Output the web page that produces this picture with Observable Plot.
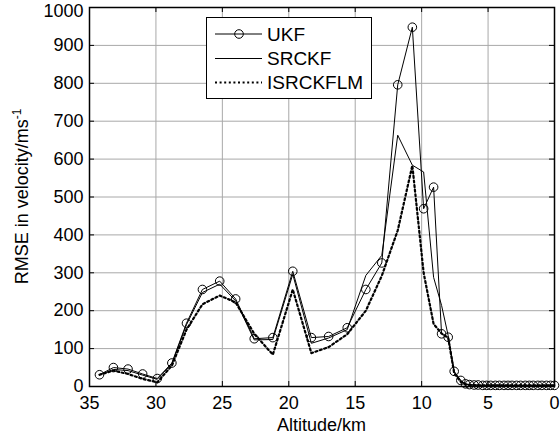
<!DOCTYPE html>
<html><head><meta charset="utf-8">
<script src="https://cdn.jsdelivr.net/npm/d3@7"></script>
<script src="https://cdn.jsdelivr.net/npm/@observablehq/plot@0.6"></script>
<style>
body{margin:0;background:#fff;}
#chart{position:relative;width:560px;height:441px;}
</style>
</head><body><div id="chart"></div>
<script>
// Altitude (km) of each sample
const altitude = [34.25, 33.2, 32.1, 31.0, 29.9, 28.8, 27.7, 26.5, 25.2, 24.0, 22.6, 21.2, 19.7, 18.3, 17.0, 15.6, 14.2, 13.0, 11.8, 10.7, 9.85, 9.1, 8.5, 8.0, 7.55, 7.05,
  6.7, 6.4, 6.05, 5.75, 5.4, 5.1, 4.8, 4.45, 4.15, 3.8, 3.5, 3.2, 2.85, 2.55, 2.2, 1.9, 1.6, 1.25, 0.95, 0.6, 0.3, 0.0];
// RMSE in velocity (m/s)
const ukf = [31, 50, 46, 33, 21, 62, 167, 256, 278, 231, 126, 129, 304, 129, 132, 155, 256, 326, 796, 948, 469, 526, 139, 130, 40, 16,
  7, 5, 4, 4, 3, 3, 3, 3, 3, 3, 3, 3, 3, 3, 3, 3, 3, 3, 3, 3, 3, 3];
const srckf = [30, 45, 42, 30, 19, 60, 163, 248, 270, 226, 123, 124, 296, 114, 128, 150, 293, 346, 663, 584, 566, 288, 214, 134, 38, 14,
  6, 4, 4, 3, 3, 3, 3, 3, 3, 3, 3, 3, 3, 3, 3, 3, 3, 3, 3, 3, 3, 3];
const isrckflm = [31, 42, 33, 20, 11, 55, 150, 217, 240, 222, 139, 84, 256, 88, 104, 138, 200, 292, 412, 583, 300, 165, 140, 128, 35, 12,
  5, 4, 3, 3, 3, 3, 3, 3, 3, 3, 3, 3, 3, 3, 3, 3, 3, 3, 3, 3, 3, 3];
const seriesNames = ["UKF", "SRCKF", "ISRCKFLM"];
const xTicks = [35, 30, 25, 20, 15, 10, 5, 0];
const yTicks = [0, 100, 200, 300, 400, 500, 600, 700, 800, 900, 1000];
const xLabel = "Altitude/km";
const yLabel = "RMSE in velocity/ms";
const yLabelSup = "-1";

const rows = vals => altitude.map((a, i) => ({alt: a, v: vals[i]}));
const font = "'Liberation Sans', Arial, Helvetica, sans-serif";
const yMax = yTicks[yTicks.length - 1];

const plot = Plot.plot({
  width: 560, height: 441,
  marginLeft: 89, marginRight: 6, marginTop: 7, marginBottom: 55,
  style: {fontFamily: font, fontSize: "18px", color: "#000", background: "#fff", overflow: "visible"},
  x: {domain: [35, 0], ticks: xTicks},
  y: {domain: [0, 1000], ticks: yTicks},
  marks: [
    Plot.gridX(xTicks, {stroke: "#a8a8a8", strokeOpacity: 1, strokeWidth: 1}),
    Plot.gridY(yTicks, {stroke: "#a8a8a8", strokeOpacity: 1, strokeWidth: 1}),
    Plot.tickX(xTicks, {x: d => d, insetTop: 374, stroke: "#000"}),
    Plot.tickX(xTicks, {x: d => d, insetBottom: 374, stroke: "#000"}),
    Plot.tickY(yTicks, {y: d => d, insetRight: 460, stroke: "#000"}),
    Plot.tickY(yTicks, {y: d => d, insetLeft: 460, stroke: "#000"}),
    Plot.line(rows(isrckflm), {x: "alt", y: "v", stroke: "#000", strokeWidth: 2.2, strokeDasharray: "2,2.6"}),
    Plot.line(rows(srckf), {x: "alt", y: "v", stroke: "#000", strokeWidth: 1}),
    Plot.line(rows(ukf), {x: "alt", y: "v", stroke: "#000", strokeWidth: 1}),
    Plot.dot(rows(ukf), {x: "alt", y: "v", r: 4.3, stroke: "#000", strokeWidth: 1, fill: "none"}),
    Plot.frame({stroke: "#000", strokeWidth: 1.5}),
    Plot.axisX(xTicks, {tickSize: 0, tickPadding: 10, label: null, fontSize: 18, tickFormat: d => String(d)}),
    Plot.axisY(yTicks.filter(t => t !== yMax), {tickSize: 0, tickPadding: 6, label: null, fontSize: 18, dy: 0, tickFormat: d => String(d)}),
    Plot.axisY([yMax], {tickSize: 0, tickPadding: 6, label: null, fontSize: 18, dy: 4, tickFormat: d => String(d)})
  ]
});
document.getElementById("chart").appendChild(plot);

const svg = d3.select(plot);
const xr = plot.scale("x").range, yr = plot.scale("y").range;
const cx = (xr[0] + xr[1]) / 2, cy = (yr[0] + yr[1]) / 2;

// x label
svg.append("text").attr("x", cx).attr("y", 431).attr("text-anchor", "middle")
  .attr("font-family", font).attr("font-size", 18).attr("fill", "#000").text(xLabel);
// y label
const yl = svg.append("text").attr("transform", `translate(28,${cy}) rotate(-90)`)
  .attr("text-anchor", "middle").attr("font-family", font).attr("font-size", 18).attr("fill", "#000");
yl.append("tspan").text(yLabel);
yl.append("tspan").attr("dy", -7).attr("font-size", 12).text(yLabelSup);

// legend
const lg = svg.append("g");
lg.append("rect").attr("x", 206.5).attr("y", 17.5).attr("width", 165).attr("height", 81)
  .attr("fill", "#fff").attr("stroke", "#000").attr("stroke-width", 1);
const ly = [34, 58.5, 82.5];
seriesNames.forEach((name, i) => {
  const y = ly[i];
  const ln = lg.append("line").attr("x1", 215).attr("x2", 262).attr("y1", y).attr("y2", y).attr("stroke", "#000");
  if (i === 2) ln.attr("stroke-width", 2.2).attr("stroke-dasharray", "2,2.6");
  if (i === 0) lg.append("circle").attr("cx", 239).attr("cy", y).attr("r", 4.3).attr("fill", "none").attr("stroke", "#000");
  lg.append("text").attr("x", 267).attr("y", y + 6.5).attr("text-anchor", "start")
    .attr("font-family", font).attr("font-size", 19).attr("fill", "#000").text(name);
});
</script>
</body></html>
